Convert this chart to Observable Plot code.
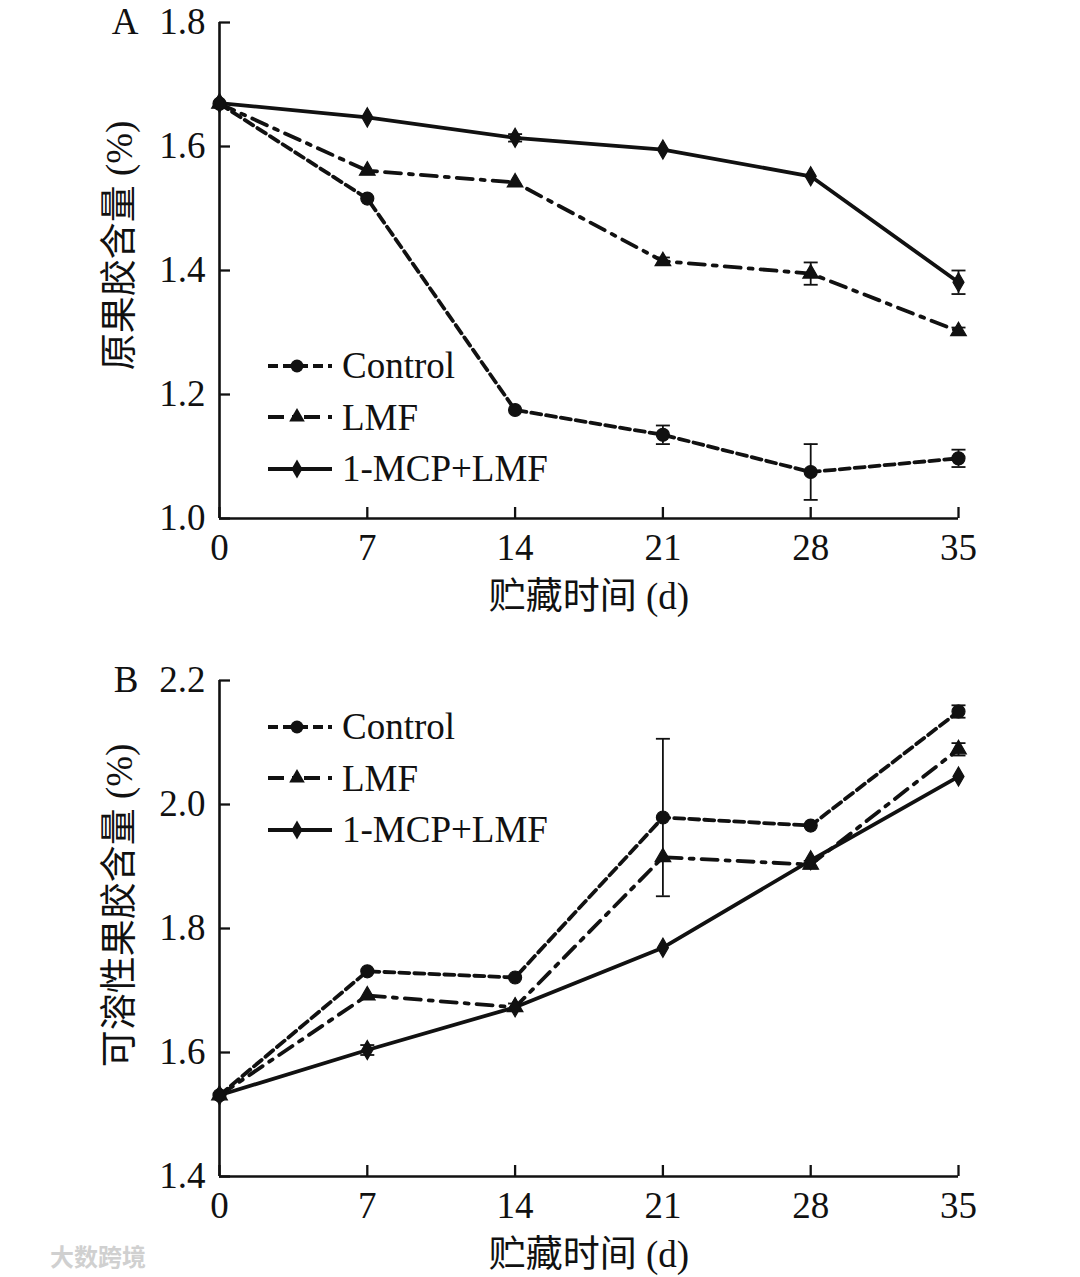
<!DOCTYPE html>
<html><head><meta charset="utf-8">
<script src="https://cdn.jsdelivr.net/npm/d3@7"></script>
<script src="https://cdn.jsdelivr.net/npm/@observablehq/plot@0.6"></script>
<style>
html,body{margin:0;padding:0;background:#fff;overflow:hidden}
#wrap{position:relative;width:1080px;height:1277px;background:#fff}
.panel{position:absolute;left:0}
.legend{position:absolute;font-family:"Liberation Serif","Times New Roman",serif;font-size:37px;color:#111;line-height:1}
.legend .row{display:flex;align-items:center;height:51.5px}
.legend svg{margin-right:10px;display:block}
.wm{position:absolute;left:8px;top:1238px;font-family:"Noto Sans CJK SC",sans-serif;font-size:24px;color:#d0d0d0;font-weight:bold}
</style></head><body><div id="wrap"></div><script>
// ---- data ----
const days = [0, 7, 14, 21, 28, 35];
const seriesNames = ["Control", "LMF", "1-MCP+LMF"];

// Panel A: protopectin content (%)
const protoControl    = [1.669, 1.516, 1.175, 1.135, 1.075, 1.097];
const protoControlErr = [0.004, 0.005, 0.004, 0.015, 0.045, 0.014];
const protoLMF        = [1.669, 1.561, 1.542, 1.415, 1.395, 1.302];
const protoLMFErr     = [0.004, 0.004, 0.005, 0.006, 0.018, 0.006];
const protoMCP        = [1.670, 1.647, 1.614, 1.595, 1.552, 1.381];
const protoMCPErr     = [0.004, 0.003, 0.006, 0.004, 0.004, 0.019];

// Panel B: soluble pectin content (%)
const solControl    = [1.531, 1.731, 1.721, 1.979, 1.966, 2.150];
const solControlErr = [0.004, 0.004, 0.004, 0.127, 0.004, 0.010];
const solLMF        = [1.531, 1.692, 1.673, 1.915, 1.903, 2.089];
const solLMFErr     = [0.004, 0.004, 0.006, 0.004, 0.006, 0.010];
const solMCP        = [1.531, 1.604, 1.673, 1.769, 1.910, 2.045];
const solMCPErr     = [0.004, 0.008, 0.005, 0.004, 0.004, 0.004];

const yTicksA = [1.0, 1.2, 1.4, 1.6, 1.8];
const yTicksB = [1.4, 1.6, 1.8, 2.0, 2.2];
const xLabel = "贮藏时间 (d)";
const yLabelA = "原果胶含量 (%)";
const yLabelB = "可溶性果胶含量 (%)";

// ---- styles ----
const FONT = '"Liberation Serif","Times New Roman","Noto Sans CJK SC",serif';
const styles = {
  "Control":   {dash: "10,5", symbol: "circle", r: 6.5},
  "LMF":       {dash: "16,8,4,8", symbol: "triangle", r: 5.8},
  "1-MCP+LMF": {dash: null, symbol: "diamond", r: 5.8}
};
const capSymbol = {draw(ctx) { ctx.moveTo(-7, 0); ctx.lineTo(7, 0); }};

function rows(vals, errs) {
  const out = [];
  seriesNames.forEach((s, i) => days.forEach((d, j) => out.push({series: s, day: d, value: vals[i][j], err: errs[i][j]})));
  return out;
}

function panel({data, yTicks, yLabel, letter, top, height, mTop, mBottom, yLabelDy}) {
  const mLeft = 219, mRight = 122, W = 1080;
  const innerW = W - mLeft - mRight, innerH = height - mTop - mBottom;
  const marks = [];
  // axis lines and inward ticks
  marks.push(Plot.ruleX([0], {strokeWidth: 2.6}));
  marks.push(Plot.ruleY([yTicks[0]], {strokeWidth: 2.6}));
  marks.push(Plot.ruleY(yTicks, {insetRight: innerW - 11, strokeWidth: 2.3}));
  marks.push(Plot.ruleX(days, {insetTop: innerH - 11, strokeWidth: 2.3}));
  marks.push(Plot.axisY(yTicks, {tickSize: 0, tickPadding: 14, label: null, tickFormat: d => d.toFixed(1)}));
  marks.push(Plot.axisX(days, {tickSize: 0, tickPadding: 15, label: null, tickFormat: d => String(d)}));
  // series
  for (const s of seriesNames) {
    const st = styles[s];
    const ds = data.filter(d => d.series === s);
    marks.push(Plot.line(ds, {x: "day", y: "value", stroke: "#111", strokeWidth: 3.8, strokeDasharray: st.dash}));
  }
  const eb = data.filter(d => d.err >= 0.006);
  marks.push(Plot.ruleX(eb, {x: "day", y1: d => d.value - d.err, y2: d => d.value + d.err, stroke: "#111", strokeWidth: 1.8}));
  marks.push(Plot.dot(eb, {x: "day", y: d => d.value - d.err, symbol: capSymbol, stroke: "#111", strokeWidth: 1.8}));
  marks.push(Plot.dot(eb, {x: "day", y: d => d.value + d.err, symbol: capSymbol, stroke: "#111", strokeWidth: 1.8}));
  for (const s of seriesNames) {
    const st = styles[s];
    const ds = data.filter(d => d.series === s);
    marks.push(Plot.dot(ds, {x: "day", y: "value", symbol: st.symbol, r: st.r, fill: "#111", stroke: "#111", strokeWidth: 1.2}));
  }
  // labels
  marks.push(Plot.text([yLabel], {frameAnchor: "left", rotate: -90, dx: -99, dy: yLabelDy, textAnchor: "middle", lineAnchor: "middle", fill: "#111"}));
  marks.push(Plot.text([xLabel], {frameAnchor: "bottom", dy: 79, textAnchor: "middle", lineAnchor: "middle", fill: "#111"}));
  marks.push(Plot.text([letter], {frameAnchor: "top-left", dx: -81, dy: 0, textAnchor: "end", lineAnchor: "middle", fill: "#111"}));

  const svg = Plot.plot({
    width: W, height,
    marginLeft: mLeft, marginRight: mRight, marginTop: mTop, marginBottom: mBottom,
    x: {domain: [0, 35], axis: null, label: null},
    y: {domain: [yTicks[0], yTicks[yTicks.length - 1]], axis: null, label: null},
    style: {fontFamily: FONT, fontSize: "37px", color: "#111", background: "transparent", overflow: "visible"},
    marks
  });
  svg.classList.add("panel");
  svg.style.top = top + "px";
  return svg;
}

function legend(top) {
  const div = document.createElement("div");
  div.className = "legend";
  div.style.left = "268px";
  div.style.top = top + "px";
  for (const s of seriesNames) {
    const st = styles[s];
    const row = document.createElement("div");
    row.className = "row";
    const sym = d3.symbol(st.symbol === "circle" ? d3.symbolCircle : st.symbol === "triangle" ? d3.symbolTriangle : d3.symbolDiamond, Math.PI * st.r * st.r)();
    row.innerHTML = `<svg width="64" height="20" viewBox="0 0 64 20"><line x1="0" y1="10" x2="64" y2="10" stroke="#111" stroke-width="3.8" ${st.dash ? `stroke-dasharray="${st.dash}"` : ""}/><path transform="translate(29,10)" d="${sym}" fill="#111"/></svg><span>${s}</span>`;
    div.appendChild(row);
  }
  return div;
}

const wrap = document.getElementById("wrap");
wrap.appendChild(panel({
  data: rows([protoControl, protoLMF, protoMCP], [protoControlErr, protoLMFErr, protoMCPErr]),
  yTicks: yTicksA, yLabel: yLabelA, letter: "A",
  top: 0, height: 640, mTop: 22, mBottom: 122, yLabelDy: -25
}));
wrap.appendChild(panel({
  data: rows([solControl, solLMF, solMCP], [solControlErr, solLMFErr, solMCPErr]),
  yTicks: yTicksB, yLabel: yLabelB, letter: "B",
  top: 640, height: 637, mTop: 40, mBottom: 101, yLabelDy: -23
}));
wrap.appendChild(legend(340));
wrap.appendChild(legend(701));
const wm = document.createElement("div");
wm.className = "wm";
wm.textContent = "大数跨境";
wm.style.left = "50px";
wrap.appendChild(wm);
</script></body></html>
